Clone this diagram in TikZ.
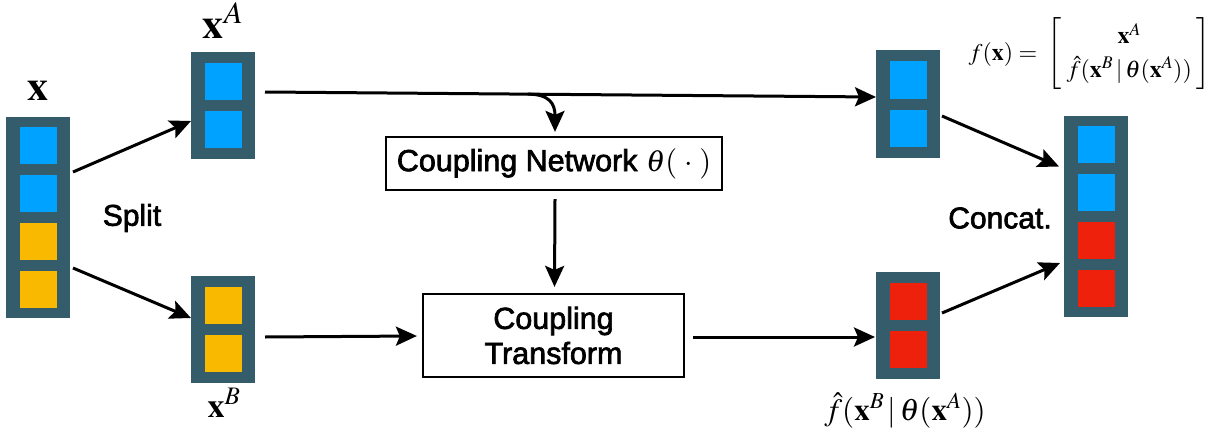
\documentclass[tikz,border=0pt]{standalone}
\usepackage{mathptmx}
\usepackage[no-math]{fontspec}
\newfontfamily\sansfont{Liberation Sans}[FakeBold=2.2]
\usetikzlibrary{arrows.meta,calc}
\definecolor{slate}{HTML}{345C6A}
\definecolor{cblue}{HTML}{00A2FF}
\definecolor{cyellow}{HTML}{F8B900}
\definecolor{cred}{HTML}{EE220C}
\begin{document}
\begin{tikzpicture}[x=1pt,y=-1pt,
  holder/.style={fill=slate, minimum width=64pt, inner sep=0pt, outer sep=0pt},
  cell/.style={fill=#1, minimum size=37pt, inner sep=0pt, outer sep=0pt},
  arr/.style={line width=3pt, -{Stealth[length=21pt,width=19pt,inset=4pt]}},
  opbox/.style={draw, line width=2.2pt, inner sep=0pt, align=center,
    font=\sansfont\fontsize{30.5}{35}\selectfont},
  lbl/.style={font=\sansfont\fontsize{30}{34}\selectfont},
]
\useasboundingbox (0,0) rectangle (1220,436);

% input vector x
\node[holder, minimum height=201pt] (x) at (38,217) {};
\foreach \c [count=\i] in {cblue,cblue,cyellow,cyellow}
  \node[cell=\c] (x\i) at ($(x.north)+(0,28.5+48*\i-48)$) {};

% split halves
\node[holder, minimum height=107pt] (xA) at (223,105.5) {};
\foreach \c [count=\i] in {cblue,cblue}
  \node[cell=\c] (xA\i) at ($(xA.north)+(0,29.5+48*\i-48)$) {};
\node[holder, minimum height=107pt] (xB) at (223,329.5) {};
\foreach \c [count=\i] in {cyellow,cyellow}
  \node[cell=\c] (xB\i) at ($(xB.north)+(0,29.5+48*\i-48)$) {};

% outputs of the coupling layer
\node[holder, minimum height=107pt] (yA) at (908,104) {};
\foreach \c [count=\i] in {cblue,cblue}
  \node[cell=\c] (yA\i) at ($(yA.north)+(0,29.5+48*\i-48)$) {};
\node[holder, minimum height=107pt] (yB) at (908,325) {};
\foreach \c [count=\i] in {cred,cred}
  \node[cell=\c] (yB\i) at ($(yB.north)+(0,29.5+48*\i-48)$) {};

% concatenated result
\node[holder, minimum height=201pt] (y) at (1096,216) {};
\foreach \c [count=\i] in {cblue,cblue,cred,cred}
  \node[cell=\c] (y\i) at ($(y.north)+(0,28.5+48*\i-48)$) {};

% operation boxes
\node[opbox, minimum width=336pt, minimum height=53pt] (cn) at (554,163.5)
  {Coupling Network $\theta(\;\cdot\;)$};
\node[opbox, minimum width=261pt, minimum height=83pt] (ct) at (553.5,335.5)
  {Coupling\\Transform};

% labels
\node[lbl] (split) at (132,218) {Split};
\node[lbl] (concat) at (1000,218) {Concat.};
\node[anchor=base, font=\fontsize{42}{50}\selectfont] (lx) at (38,100) {$\mathbf{x}$};
\node[anchor=base, font=\fontsize{42}{50}\selectfont] (lxA) at (223,39) {$\mathbf{x}^A$};
\node[anchor=base, font=\fontsize{34}{40}\selectfont] (lxB) at (224,417) {$\mathbf{x}^B$};
\node[anchor=base, font=\fontsize{31}{36}\selectfont] (lf) at (905,420)
  {$\hat{f}(\mathbf{x}^B\,|\,\theta(\mathbf{x}^A))$};
\node[anchor=east, inner sep=0pt, font=\fontsize{24}{29}\selectfont] (fx) at (1211,54)
  {\renewcommand{\arraystretch}{1.15}%
   $f(\mathbf{x}) =\; \left[\begin{array}{c}\mathbf{x}^A\\
    \hat{f}(\mathbf{x}^B\,|\,\theta(\mathbf{x}^A))\end{array}\right]$};

% connectors
\draw[arr] ($(x.north east)+(3,55.5)$) -- ($(xA.north west)+(0,69)$);
\draw[arr] ($(x.south east)+(3,-49.5)$) -- ($(xB.north west)+(0,42)$);
\draw[arr] ($(xA.east)+(10,-13.5)$) -- coordinate[pos=0.43] (br) ($(yA.west)+(0,-7)$);
\draw[arr] (br) .. controls +(22,0) and +(0,-28) .. ($(cn.north)+(1,-4)$);
\draw[arr] ($(cn.south)+(1,8)$) -- ($(ct.north)+(1,-6)$);
\draw[arr] ($(xB.east)+(10,7.5)$) -- ($(ct.west)+(-5,0.5)$);
\draw[arr] ($(ct.east)+(8,1.5)$) -- ($(yB.west)+(-1,12)$);
\draw[arr] ($(yA.east)+(2,12)$) -- ($(y.north west)+(-5,51)$);
\draw[arr] ($(yB.east)+(2,-12)$) -- ($(y.south west)+(-4,-53.5)$);
\end{tikzpicture}
\end{document}
